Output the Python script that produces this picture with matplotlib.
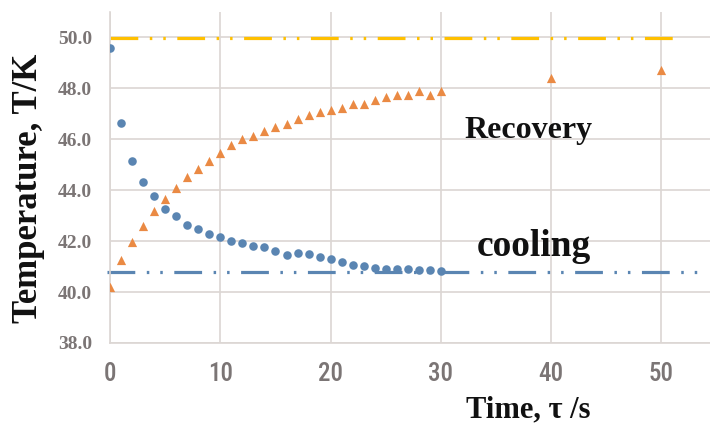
"""Cooling / recovery temperature curves."""

import numpy as np
import matplotlib.pyplot as plt

plt.rcParams['lines.scale_dashes'] = False

# %% data

time_fine = np.arange(0, 31)
time_recovery = np.concatenate([time_fine, [40, 50]])

temp_cooling = [49.58, 46.64, 45.15, 44.33, 43.78, 43.25, 42.98, 42.65, 42.47,
                42.27, 42.18, 42.00, 41.91, 41.80, 41.76, 41.63, 41.45, 41.53,
                41.48, 41.36, 41.28, 41.16, 41.08, 41.02, 40.93, 40.92, 40.92,
                40.89, 40.86, 40.85, 40.84]

temp_recovery = [40.20, 41.25, 41.95, 42.60, 43.20, 43.66, 44.10, 44.52, 44.82,
                 45.15, 45.46, 45.76, 46.00, 46.13, 46.33, 46.50, 46.60, 46.78,
                 46.97, 47.07, 47.16, 47.24, 47.38, 47.37, 47.53, 47.66, 47.75,
                 47.75, 47.90, 47.75, 47.88, 48.40, 48.73]

upper_level = 49.97   # yellow reference line
upper_span = [0, 51.5]
lower_level = 40.77   # blue reference line
lower_span = [-0.3, 53.8]

x_ticks = [0, 10, 20, 30, 40, 50]
y_ticks = [38, 40, 42, 44, 46, 48, 50]

# %% plot

blue = '#5a85b2'
orange = '#ea8a44'
yellow = '#ffc000'
grid_c = '#dcd6d3'
tick_c = '#7b7575'
dash = (0, (20, 8.3, 1.8, 7.9, 1.8, 8.3))
narrow = ['Roboto Condensed', 'DejaVu Sans Condensed', 'Liberation Sans Narrow',
          'DejaVu Sans']

fig = plt.figure(figsize=(7.1, 4.25), dpi=100)
ax = fig.add_axes([0.155, 0.193, 0.845, 0.779])

ax.plot(upper_span, [upper_level] * 2, color=yellow, lw=2.3,
        linestyle=dash, dash_capstyle='butt', zorder=2)
ax.plot(lower_span, [lower_level] * 2, color=blue, lw=2.3,
        linestyle=dash, dash_capstyle='butt', zorder=2, clip_on=False)

ax.scatter(time_fine, temp_cooling, s=38, color=blue, marker='o',
           linewidths=0, zorder=3)
ax.scatter(time_recovery, temp_recovery, s=44, color=orange, marker='^',
           linewidths=0, zorder=3)

ax.text(37.9, 46.05, 'Recovery', family='Liberation Serif', weight='bold',
        fontsize=23, ha='center', va='baseline', color='#111111')
ax.text(38.4, 41.41, 'cooling', family='Liberation Serif', weight='bold',
        fontsize=27, ha='center', va='baseline', color='#111111')

ax.set_xlim(0, 54.4)
ax.set_ylim(38, 51)
ax.set_xticks(x_ticks)
ax.set_yticks(y_ticks)
ax.set_yticklabels([f'{v:.1f}' for v in y_ticks])
ax.grid(True, color=grid_c, lw=1.2)
ax.set_axisbelow(True)

for side in ['top', 'right']:
    ax.spines[side].set_visible(False)
for side in ['left', 'bottom']:
    ax.spines[side].set_color(grid_c)
    ax.spines[side].set_linewidth(1.2)

ax.tick_params(length=0)
ax.tick_params(axis='y', pad=13)
ax.tick_params(axis='x', pad=14)
for lab in ax.get_yticklabels():
    lab.set_family('Liberation Serif')
    lab.set_weight('bold')
    lab.set_fontsize(14)
    lab.set_color(tick_c)
for lab in ax.get_xticklabels():
    lab.set_family(narrow)
    lab.set_stretch('condensed')
    lab.set_weight('medium')
    lab.set_fontsize(18)
    lab.set_color(tick_c)

ax.set_xlabel('Time, τ /s', family='Liberation Serif', weight='bold',
              fontsize=22, color='#111111')
ax.xaxis.set_label_coords(0.697, -0.157)
ax.set_ylabel('Temperature, T/K', family='Liberation Serif', weight='bold',
              fontsize=25, color='#111111')
ax.yaxis.set_label_coords(-0.108, 0.468)

plt.savefig('out.png', dpi=100)
